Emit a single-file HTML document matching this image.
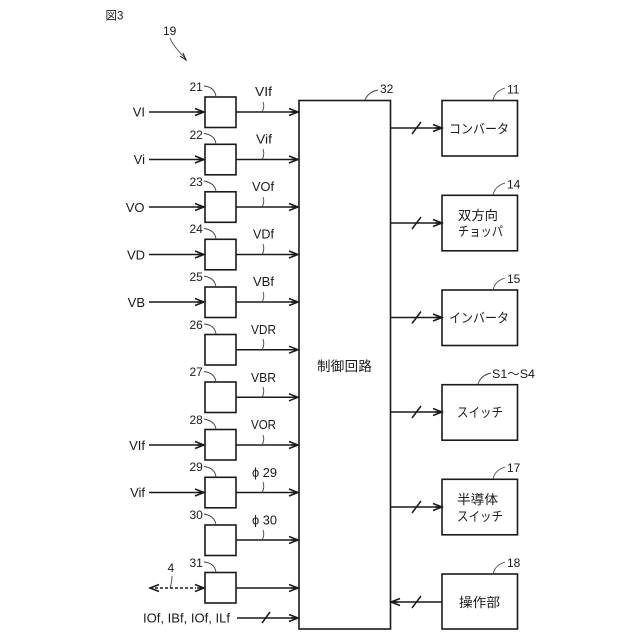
<!DOCTYPE html>
<html><head><meta charset="utf-8"><style>
html,body{margin:0;padding:0;background:#fff;width:640px;height:640px;overflow:hidden}
svg{display:block}
text{font-family:"Liberation Sans","Noto Sans CJK JP",sans-serif;fill:#1a1a1a;font-size:12.5px}
.j{font-size:13px}
.n{font-size:12px}
.b{fill:#fff;stroke:#1a1a1a;stroke-width:1.6}
.l{fill:none;stroke:#1a1a1a;stroke-width:1.5}
.c{fill:none;stroke:#444;stroke-width:.9}
</style></head><body>
<svg width="640" height="640" viewBox="0 0 640 640" xmlns="http://www.w3.org/2000/svg">
<defs>
<g id="ah"><path class="l" d="M-9,-3.500 L0,0 L-9,3.500 M-7,0 L0,0"/></g>
</defs>
<text x="105.500" y="19.500" style="font-size:11.500px">図3</text>
<text x="163" y="35" class="n">19</text>
<path class="c" d="M170,38 Q173,46 186,59"/><path class="l" style="stroke-width:1" d="M180,56 L186,60 L183,53"/>

<!-- left boxes -->
<rect class="b" x="205" y="97" width="31" height="30.500"/>
<rect class="b" x="205" y="144.300" width="31" height="30.500"/>
<rect class="b" x="205" y="191.800" width="31" height="30.500"/>
<rect class="b" x="205" y="239.300" width="31" height="30.500"/>
<rect class="b" x="205" y="287" width="31" height="30.500"/>
<rect class="b" x="205" y="334.500" width="31" height="30.500"/>
<rect class="b" x="205" y="382" width="31" height="30.500"/>
<rect class="b" x="205" y="429.500" width="31" height="30.500"/>
<rect class="b" x="205" y="477.300" width="31" height="30.500"/>
<rect class="b" x="205" y="525" width="31" height="30.500"/>
<rect class="b" x="205" y="572.500" width="31" height="30.500"/>
<!-- main block -->
<rect class="b" x="299" y="100.500" width="91.500" height="528.500"/>
<text x="317" y="371" style="font-size:13.500px;letter-spacing:.3px">制御回路</text>

<!-- output lines -->
<path class="l" d="M236,112 H298"/><use href="#ah" x="298" y="112"/>
<path class="l" d="M236,159.500 H298"/><use href="#ah" x="298" y="159.500"/>
<path class="l" d="M236,207 H298"/><use href="#ah" x="298" y="207"/>
<path class="l" d="M236,254.500 H298"/><use href="#ah" x="298" y="254.500"/>
<path class="l" d="M236,302 H298"/><use href="#ah" x="298" y="302"/>
<path class="l" d="M236,349.700 H298"/><use href="#ah" x="298" y="349.700"/>
<path class="l" d="M236,397.300 H298"/><use href="#ah" x="298" y="397.300"/>
<path class="l" d="M236,445 H298"/><use href="#ah" x="298" y="445"/>
<path class="l" d="M236,492.500 H298"/><use href="#ah" x="298" y="492.500"/>
<path class="l" d="M236,540 H298"/><use href="#ah" x="298" y="540"/>
<path class="l" d="M236,588 H298"/><use href="#ah" x="298" y="588"/>
<!-- input lines -->
<path class="l" d="M149,112 H204"/><use href="#ah" x="204" y="112"/>
<path class="l" d="M149,159.500 H204"/><use href="#ah" x="204" y="159.500"/>
<path class="l" d="M149,207 H204"/><use href="#ah" x="204" y="207"/>
<path class="l" d="M149,254.500 H204"/><use href="#ah" x="204" y="254.500"/>
<path class="l" d="M149,302 H204"/><use href="#ah" x="204" y="302"/>
<path class="l" d="M149,445 H204"/><use href="#ah" x="204" y="445"/>
<path class="l" d="M149,492.500 H204"/><use href="#ah" x="204" y="492.500"/>
<path class="l" d="M150,588 H196" stroke-dasharray="3 2"/><use href="#ah" x="204" y="588"/>
<path class="l" d="M159,584.500 L150,588 L159,591.500"/>
<path class="l" d="M237,618 H298"/><use href="#ah" x="298" y="618"/>
<path class="l" d="M262,623 L270,612"/>

<!-- input labels -->
<g text-anchor="end">
<text x="145" y="116.500" style="font-size:13px">VI</text>
<text x="145" y="164" style="font-size:13px">Vi</text>
<text x="144.500" y="212" style="font-size:13px">VO</text>
<text x="145" y="259.500" style="font-size:13px">VD</text>
<text x="145" y="307" style="font-size:13px">VB</text>
<text x="145" y="450" style="font-size:13px">VIf</text>
<text x="145" y="497" style="font-size:13px">Vif</text>
</g>
<text x="143" y="622.500" style="font-size:12.500px" textLength="87" lengthAdjust="spacingAndGlyphs">IOf, IBf, IOf, ILf</text>
<text x="167.500" y="572" class="n">4</text>
<path class="c" d="M172,576 Q172,582 170,588"/>

<!-- numbers -->
<text class="n" x="189.500" y="91">21</text><text class="n" x="189.500" y="139">22</text><text class="n" x="189.500" y="186">23</text>
<text class="n" x="189.500" y="233">24</text><text class="n" x="189.500" y="281">25</text><text class="n" x="189.500" y="329">26</text>
<text class="n" x="189.500" y="376">27</text><text class="n" x="189.500" y="424">28</text><text class="n" x="189.500" y="471">29</text>
<text class="n" x="189.500" y="519">30</text><text class="n" x="189.500" y="567">31</text>
<path class="c" d="M204,86 Q215,87 216,97"/>
<path class="c" d="M204,133.500 Q215,135 216,144"/>
<path class="c" d="M204,181 Q215,183 216,191.500"/>
<path class="c" d="M204,228.500 Q215,230 216,239"/>
<path class="c" d="M204,276 Q215,278 216,287"/>
<path class="c" d="M204,324 Q215,325 216,334"/>
<path class="c" d="M204,371.500 Q215,373 216,382"/>
<path class="c" d="M204,419 Q215,421 216,429.500"/>
<path class="c" d="M204,466.500 Q215,468 216,477"/>
<path class="c" d="M204,514 Q215,516 216,525"/>
<path class="c" d="M204,562 Q215,563 216,572.500"/>
<!-- signal labels -->
<text x="255" y="96" textLength="17" lengthAdjust="spacingAndGlyphs">VIf</text>
<text x="256" y="143.500" textLength="16" lengthAdjust="spacingAndGlyphs">Vif</text>
<text x="252" y="191" textLength="22" lengthAdjust="spacingAndGlyphs">VOf</text>
<text x="253" y="238.500" textLength="21" lengthAdjust="spacingAndGlyphs">VDf</text>
<text x="253" y="286" textLength="21" lengthAdjust="spacingAndGlyphs">VBf</text>
<text x="251" y="334" textLength="25" lengthAdjust="spacingAndGlyphs">VDR</text>
<text x="251" y="382" textLength="25" lengthAdjust="spacingAndGlyphs">VBR</text>
<text x="251" y="429" textLength="25" lengthAdjust="spacingAndGlyphs">VOR</text>
<text x="252" y="477" textLength="25" lengthAdjust="spacingAndGlyphs">ϕ 29</text>
<text x="252" y="524.500" textLength="25" lengthAdjust="spacingAndGlyphs">ϕ 30</text>
<path class="c" d="M263,102 Q265,107 262,112"/>
<path class="c" d="M263,149 Q265,155 262,159.500"/>
<path class="c" d="M263,197 Q265,202 262,207"/>
<path class="c" d="M263,244 Q265,250 262,254.500"/>
<path class="c" d="M263,292 Q265,297 262,302"/>
<path class="c" d="M263,339 Q265,345 262,349.700"/>
<path class="c" d="M263,387 Q265,392 262,397.300"/>
<path class="c" d="M263,435 Q265,440 262,445"/>
<path class="c" d="M263,482 Q265,488 262,492.500"/>
<path class="c" d="M263,530 Q265,535 262,540"/>
<path class="c" d="M365,100 Q368,92 378,90"/>
<text x="380" y="93" class="n">32</text>

<!-- right boxes -->
<rect class="b" x="442" y="100.500" width="75.500" height="55.500"/>
<rect class="b" x="442" y="195.300" width="75.500" height="55.500"/>
<rect class="b" x="442" y="290" width="75.500" height="55.500"/>
<rect class="b" x="442" y="384.700" width="75.500" height="55.500"/>
<rect class="b" x="442" y="479.300" width="75.500" height="55.500"/>
<rect class="b" x="442" y="574" width="75.500" height="55"/>

<path class="l" d="M390,128 H441"/><use href="#ah" x="442" y="128"/><path class="l" d="M412,134 L421,122"/>
<path class="l" d="M390,223 H441"/><use href="#ah" x="442" y="223"/><path class="l" d="M412,229 L421,217"/>
<path class="l" d="M390,317.500 H441"/><use href="#ah" x="442" y="317.500"/><path class="l" d="M412,323.500 L421,311.500"/>
<path class="l" d="M390,412 H441"/><use href="#ah" x="442" y="412"/><path class="l" d="M412,418 L421,406"/>
<path class="l" d="M390,507 H441"/><use href="#ah" x="442" y="507"/><path class="l" d="M412,513 L421,501"/>
<path class="l" d="M391,602 H442"/><use href="#ah" transform="translate(391,602) scale(-1,1)"/><path class="l" d="M412,608 L421,596"/>

<text class="j" x="449" y="133.500" textLength="60" lengthAdjust="spacingAndGlyphs">コンバータ</text>
<text class="j" x="458" y="220" textLength="40" lengthAdjust="spacingAndGlyphs">双方向</text>
<text class="j" x="458" y="236" textLength="45" lengthAdjust="spacingAndGlyphs">チョッパ</text>
<text class="j" x="449" y="322.500" textLength="60" lengthAdjust="spacingAndGlyphs">インバータ</text>
<text class="j" x="457" y="417" textLength="46" lengthAdjust="spacingAndGlyphs">スイッチ</text>
<text class="j" x="457" y="504" textLength="41" lengthAdjust="spacingAndGlyphs">半導体</text>
<text class="j" x="457" y="521" textLength="46" lengthAdjust="spacingAndGlyphs">スイッチ</text>
<text class="j" x="459" y="607" textLength="41" lengthAdjust="spacingAndGlyphs">操作部</text>

<text class="n" x="507" y="93.500">11</text>
<text class="n" x="507" y="188.500">14</text>
<text class="n" x="507" y="283">15</text>
<text x="492" y="378" style="font-size:12px" textLength="43" lengthAdjust="spacingAndGlyphs">S1～S4</text>
<text class="n" x="507" y="472">17</text>
<text class="n" x="507" y="567">18</text>
<path class="c" d="M493,100 Q495,91 505,88"/>
<path class="c" d="M493,195 Q495,186 505,183"/>
<path class="c" d="M493,290 Q495,281 505,278"/>
<path class="c" d="M478,384 Q481,375 491,373"/>
<path class="c" d="M493,479 Q495,470 505,467"/>
<path class="c" d="M493,574 Q495,565 505,562"/>
</svg>
</body></html>
